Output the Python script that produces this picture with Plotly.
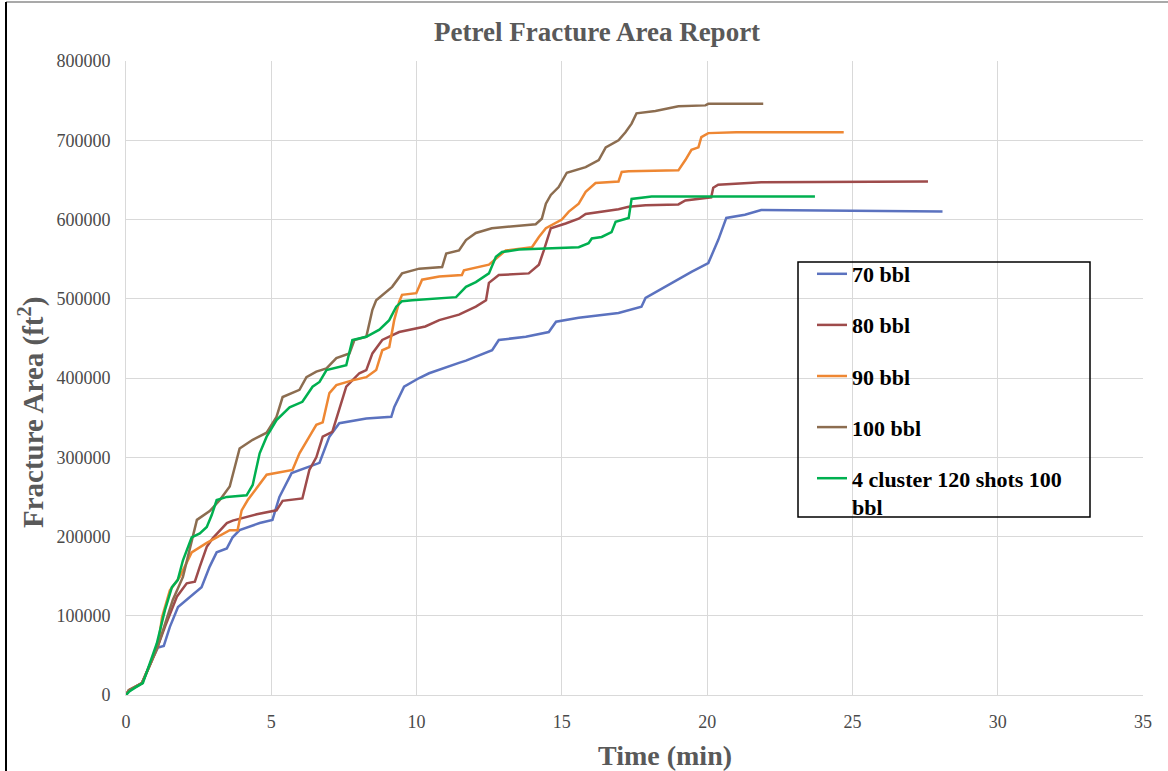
import plotly.graph_objects as go

# ---------------- data ----------------
series_names = ["70 bbl", "80 bbl", "90 bbl", "100 bbl", "4 cluster 120 shots 100<br>bbl"]
series_colors = ["#5B72BF", "#9E4B4B", "#EE8733", "#8C6D50", "#00B050"]

t70 = [0, 0.1, 0.3, 0.55, 0.87, 1.1, 1.3, 1.51, 1.79, 2.2, 2.6, 2.88, 3.12, 3.47, 3.67, 3.91,
       4.6, 5.04, 5.28, 5.7, 6.66, 7.0, 7.34, 8.27, 9.13, 9.23, 9.57, 10.09, 10.43, 11.46, 11.7,
       12.6, 12.83, 13.76, 14.55, 14.8, 15.58, 16.95, 17.74, 17.88, 18.77, 19.46, 20.04, 20.38,
       20.66, 21.3, 21.86, 24.0, 28.1]
v70 = [0, 6000, 10000, 15000, 42000, 60000, 62000, 86000, 111000, 124000, 136000, 162000, 180000,
       185000, 199000, 208000, 217000, 221000, 250000, 280000, 293000, 326000, 343000, 349000,
       351000, 363000, 389000, 400000, 406000, 419000, 422000, 435000, 448000, 452000, 458000,
       471000, 476000, 482000, 490000, 501000, 520000, 534000, 545000, 574000, 602000, 606000,
       612000, 611000, 610000]

t80 = [0, 0.1, 0.3, 0.55, 0.87, 1.1, 1.34, 1.75, 2.09, 2.37, 2.54, 2.78, 2.99, 3.47, 3.67, 4.5,
       5.18, 5.39, 6.07, 6.31, 6.55, 6.77, 7.1, 7.58, 8.03, 8.27, 8.48, 8.82, 9.4, 10.3, 10.78,
       11.46, 12.04, 12.39, 12.49, 12.83, 13.86, 14.21, 14.38, 14.62, 15.13, 15.58, 15.82, 16.95,
       17.3, 17.88, 19.01, 19.25, 20.14, 20.21, 20.38, 21.86, 27.6]
v80 = [0, 6000, 10000, 15000, 42000, 62000, 86000, 124000, 141000, 143000, 162000, 187000, 198000,
       217000, 220000, 228000, 233000, 245000, 248000, 284000, 300000, 326000, 332000, 389000,
       406000, 410000, 431000, 448000, 458000, 465000, 473000, 480000, 490000, 498000, 520000,
       530000, 532000, 543000, 561000, 589000, 595000, 601000, 607000, 613000, 616000, 618000,
       619000, 624000, 628000, 640000, 644000, 647000, 648000]

t90 = [0, 0.1, 0.3, 0.55, 0.87, 1.1, 1.24, 1.51, 1.85, 2.09, 2.26, 2.78, 3.12, 3.57, 3.84, 3.98,
       4.19, 4.6, 4.84, 5.73, 5.97, 6.31, 6.55, 6.77, 7.0, 7.24, 7.79, 8.27, 8.61, 8.82, 9.06,
       9.23, 9.4, 9.5, 9.99, 10.19, 10.78, 11.56, 11.63, 12.49, 12.83, 13.07, 13.97, 14.21, 14.45,
       15.0, 15.24, 15.58, 15.82, 16.16, 16.95, 17.06, 17.3, 19.01, 19.25, 19.46, 19.7, 19.8,
       20.04, 21.0, 24.7]
v90 = [0, 6000, 10000, 15000, 42000, 62000, 98000, 132000, 149000, 166000, 180000, 192000, 199000,
       208000, 208000, 233000, 246000, 267000, 278000, 284000, 305000, 326000, 341000, 344000,
       381000, 391000, 397000, 401000, 410000, 435000, 439000, 473000, 496000, 505000, 507000,
       524000, 528000, 530000, 536000, 543000, 553000, 561000, 565000, 578000, 589000, 600000,
       610000, 620000, 635000, 646000, 648000, 660000, 661000, 662000, 675000, 688000, 691000,
       704000, 709000, 710000, 710000]

t100 = [0, 0.1, 0.3, 0.55, 0.87, 1.1, 1.61, 1.96, 2.44, 2.88, 3.23, 3.57, 3.91, 4.36, 4.84, 5.18,
        5.39, 5.97, 6.21, 6.55, 6.9, 7.24, 7.69, 7.86, 8.27, 8.48, 8.61, 9.16, 9.5, 10.09, 10.88,
        11.02, 11.46, 11.7, 12.04, 12.59, 14.1, 14.31, 14.45, 14.62, 14.89, 15.17, 15.82, 16.27,
        16.51, 16.95, 17.19, 17.4, 17.57, 18.22, 19.01, 19.94, 20.04, 21.93]
v100 = [0, 6000, 10000, 15000, 42000, 62000, 120000, 149000, 221000, 232000, 246000, 263000,
        311000, 322000, 331000, 351000, 376000, 385000, 401000, 408000, 412000, 425000, 431000,
        448000, 452000, 486000, 498000, 515000, 532000, 538000, 540000, 557000, 561000, 574000,
        583000, 589000, 594000, 601000, 620000, 631000, 641000, 659000, 666000, 675000, 691000,
        700000, 710000, 721000, 734000, 737000, 743000, 744000, 746000, 746000]

t4c = [0, 0.1, 0.3, 0.58, 1.06, 1.34, 1.58, 1.78, 1.96, 2.26, 2.54, 2.78, 2.95, 3.12, 3.47, 4.15,
       4.36, 4.6, 4.84, 5.18, 5.63, 6.07, 6.42, 6.66, 6.9, 7.58, 7.79, 8.27, 8.72, 9.06, 9.3,
       9.5, 9.85, 10.78, 11.36, 11.7, 12.04, 12.49, 12.73, 12.94, 13.52, 15.58, 15.92, 16.03,
       16.37, 16.71, 16.85, 17.3, 17.4, 18.09, 23.71]
v4c = [0, 4000, 9000, 15000, 65000, 107000, 136000, 145000, 170000, 199000, 204000, 212000,
       227000, 246000, 250000, 252000, 265000, 305000, 326000, 347000, 363000, 370000, 389000,
       395000, 410000, 416000, 448000, 452000, 461000, 473000, 490000, 497000, 498000, 501000,
       502000, 515000, 521000, 532000, 553000, 559000, 562000, 565000, 570000, 576000, 578000,
       584000, 597000, 602000, 626000, 629000, 629000]

all_t = [t70, t80, t90, t100, t4c]
all_v = [v70, v80, v90, v100, v4c]

x_ticks = [0, 5, 10, 15, 20, 25, 30, 35]
y_ticks = [0, 100000, 200000, 300000, 400000, 500000, 600000, 700000, 800000]

# ---------------- figure ----------------
serif = "Liberation Serif"
grey_text = "#595959"

fig = go.Figure()
for i, (name, color) in enumerate(zip(series_names, series_colors)):
    fig.add_trace(go.Scatter(
        x=all_t[i], y=all_v[i], mode="lines", name=name,
        line=dict(color=color, width=2.5),
        legendgroup=f"g{i}",
    ))

W, H = 1168, 771
L, R, T, B = 126, 25, 61, 76
pw, ph = W - L - R, H - T - B


def px(x):
    return (x - L) / pw


def py(y):
    return (H - B - y) / ph


fig.update_layout(
    width=W, height=H,
    margin=dict(l=L, r=R, t=T, b=B),
    paper_bgcolor="white", plot_bgcolor="white",
    showlegend=True,
    legend=dict(
        x=px(812), y=py(253), xanchor="left", yanchor="top",
        font=dict(family=serif, size=22, color="black", weight="bold"),
        bgcolor="rgba(0,0,0,0)", borderwidth=0,
        tracegroupgap=19.5, itemwidth=30, valign="top",
    ),
    xaxis=dict(
        range=[0, 35], tickvals=x_ticks, showgrid=True, gridcolor="#D9D9D9", gridwidth=1,
        zeroline=False, showline=True, linecolor="#D9D9D9", linewidth=1,
        ticks="", tickfont=dict(family=serif, size=18, color="#4A4A4A"),
        ticklabelstandoff=10,
    ),
    yaxis=dict(
        range=[0, 800000], tickvals=y_ticks, ticktext=[str(v) for v in y_ticks],
        showgrid=True, gridcolor="#D9D9D9", gridwidth=1,
        zeroline=False, showline=True, linecolor="#D9D9D9", linewidth=1,
        ticks="", tickfont=dict(family=serif, size=18, color="#4A4A4A"),
        ticklabelstandoff=11,
    ),
    annotations=[
        dict(text="<b>Petrel Fracture Area Report</b>", x=px(597), y=py(32),
             xref="paper", yref="paper", showarrow=False,
             xanchor="center", yanchor="middle",
             font=dict(family=serif, size=27, color=grey_text)),
        dict(text="<b>Time (min)</b>", x=px(665), y=py(755),
             xref="paper", yref="paper", showarrow=False,
             xanchor="center", yanchor="middle",
             font=dict(family=serif, size=28, color=grey_text)),
        dict(text="<b>Fracture Area (ft<sup>2</sup>)</b>", x=px(31), y=py(413),
             xref="paper", yref="paper", showarrow=False, textangle=-90,
             xanchor="center", yanchor="middle",
             font=dict(family=serif, size=29, color=grey_text)),
    ],
    shapes=[
        # legend box
        dict(type="rect", xref="paper", yref="paper",
             x0=px(798), x1=px(1090), y0=py(517), y1=py(262),
             line=dict(color="black", width=1.5), fillcolor="rgba(0,0,0,0)", layer="above"),
        # outer frame (top and left edges as seen)
        dict(type="line", xref="paper", yref="paper",
             x0=px(6), x1=px(1168), y0=py(2), y1=py(2),
             line=dict(color="#8C8C8C", width=1.5)),
        dict(type="line", xref="paper", yref="paper",
             x0=px(6), x1=px(6), y0=py(2), y1=py(771),
             line=dict(color="black", width=2)),
    ],
)

fig.write_html("out.html")
